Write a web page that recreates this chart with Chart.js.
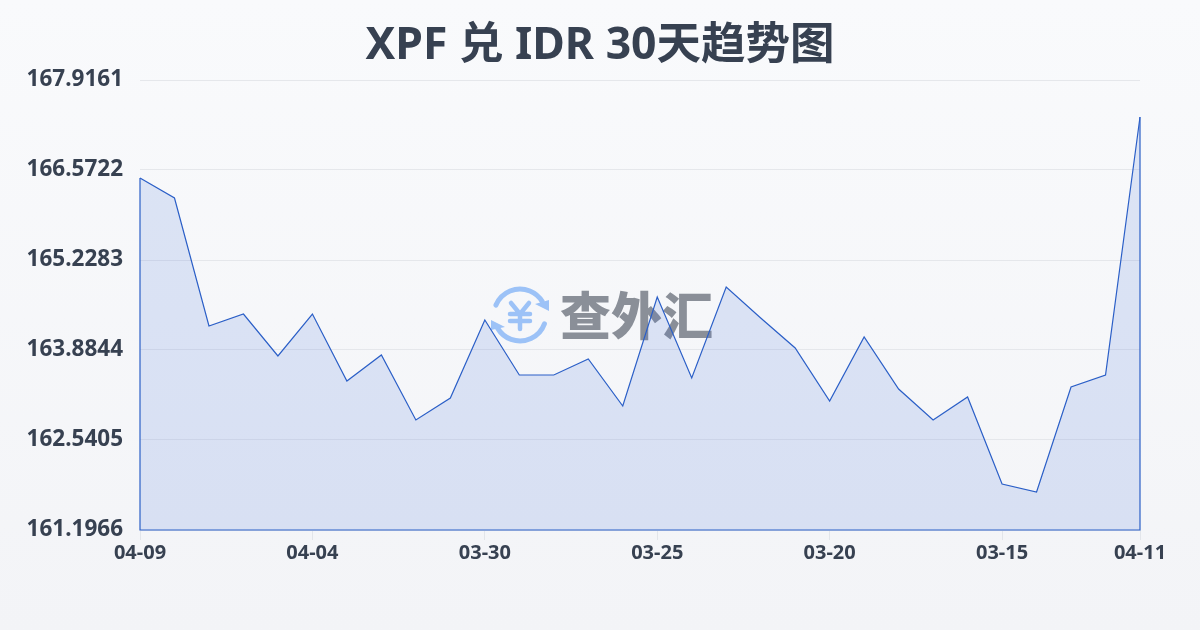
<!DOCTYPE html>
<html><head><meta charset="utf-8">
<script src="https://cdn.jsdelivr.net/npm/chart.js@4"></script>
<style>
html,body{margin:0;padding:0;width:1200px;height:630px;overflow:hidden;background:linear-gradient(180deg,#f9fafc 0%,#f3f4f7 100%);}
#w{position:absolute;left:0;top:0;width:1200px;height:630px}
</style></head><body><div id="w"><canvas id="c" width="1200" height="630"></canvas></div>
<script>
const titleText = 'XPF 兑 IDR 30天趋势图';
const categories = ['04-09','04-08','04-07','04-06','04-05','04-04','04-03','04-02','04-01','03-31','03-30','03-29','03-28','03-27','03-26','03-25','03-24','03-23','03-22','03-21','03-20','03-19','03-18','03-17','03-16','03-15','03-14','03-13','03-12','04-11'];
const rates = [166.4527,166.1541,164.2428,164.4220,163.7948,164.4220,163.4215,163.8097,162.8391,163.1677,164.3324,163.5111,163.5111,163.7500,163.0482,164.6758,163.4663,164.8251,164.3622,163.9143,163.1229,164.0785,163.3020,162.8391,163.1826,161.8835,161.7640,163.3319,163.5111,167.3636];
const yTicks = [161.1966,162.5405,163.8844,165.2283,166.5722,167.9161];
const xShown = ['04-09','04-04','03-30','03-25','03-20','03-15','04-11'];
const fontFam = '"Noto Sans","Noto Sans CJK SC",sans-serif';
const lineColor = '#2b5fc7';

const watermark = {
  id:'watermark',
  beforeDatasetsDraw(chart){
    const ctx = chart.ctx; ctx.save();
    const cx=520, cy=315, r=26;
    ctx.strokeStyle='#9cc2f7'; ctx.fillStyle='#9cc2f7'; ctx.lineWidth=5; ctx.lineCap='round';
    ctx.beginPath(); ctx.arc(cx,cy,r,-2.75,-0.55); ctx.stroke();
    ctx.beginPath(); ctx.arc(cx,cy,r,0.35,2.6); ctx.stroke();
    ctx.beginPath(); ctx.moveTo(549,300); ctx.lineTo(549,311); ctx.lineTo(535,304); ctx.closePath(); ctx.fill();
    ctx.beginPath(); ctx.moveTo(491,330); ctx.lineTo(491,320); ctx.lineTo(505,327); ctx.closePath(); ctx.fill();
    ctx.lineWidth=4.5;
    ctx.beginPath(); ctx.moveTo(511,303); ctx.lineTo(520,314); ctx.lineTo(529,303);
    ctx.moveTo(520,314); ctx.lineTo(520,329);
    ctx.moveTo(510,314); ctx.lineTo(530,314);
    ctx.moveTo(510,321); ctx.lineTo(530,321); ctx.stroke();
    ctx.fillStyle='#8a8f98'; ctx.font='900 51px "Noto Sans CJK SC"';
    ctx.textAlign='left'; ctx.textBaseline='middle';
    ctx.fillText('查外汇',560,316);
    ctx.restore();
  }
};
const outline = {
  id:'outline',
  afterDatasetsDraw(chart){
    const pts = chart.getDatasetMeta(0).data, y0 = chart.scales.y.getPixelForValue(yTicks[0]);
    const ctx = chart.ctx; ctx.save();
    ctx.strokeStyle=lineColor; ctx.lineWidth=1.2;
    ctx.beginPath();
    ctx.moveTo(pts[0].x,pts[0].y); ctx.lineTo(pts[0].x,y0);
    ctx.lineTo(pts[pts.length-1].x,y0); ctx.lineTo(pts[pts.length-1].x,pts[pts.length-1].y);
    ctx.stroke(); ctx.restore();
  }
};
new Chart(document.getElementById('c'),{
  type:'line',
  data:{labels:categories,datasets:[{data:rates,borderColor:lineColor,borderWidth:1.2,pointRadius:0,tension:0,fill:'origin',backgroundColor:'rgba(62,110,215,0.15)'}]},
  plugins:[watermark,outline],
  options:{
    responsive:false,animation:false,
    layout:{padding:0},
    plugins:{legend:{display:false},tooltip:{enabled:false},
      title:{display:true,text:titleText,color:'#374151',font:{family:fontFam,size:44.5,weight:'bold'},padding:{top:20,bottom:6.6}}},
    scales:{
      x:{type:'category',offset:false,
        afterBuildTicks(s){s.ticks=s.ticks.filter(t=>xShown.includes(categories[t.value]));},
        afterFit(s){s.height=100;},
        border:{display:false},
        grid:{drawOnChartArea:false,color:'#e2e5ea',tickLength:10},
        ticks:{autoSkip:false,maxRotation:0,color:'#374151',padding:1,font:{family:fontFam,size:20,weight:'bold'}}},
      y:{min:yTicks[0],max:yTicks[yTicks.length-1],
        afterBuildTicks(s){s.ticks=yTicks.map(v=>({value:v}));},
        afterFit(s){s.width=140;},
        border:{display:false},
        grid:{color:'#e5e7eb',lineWidth:1,drawTicks:false},
        ticks:{color:'#374151',padding:17,font:{family:fontFam,size:22.5,weight:'bold'},callback:v=>Number(v).toFixed(4)}},
      yRight:{position:'right',min:0,max:1,
        afterFit(s){s.width=60;},
        border:{display:false},grid:{display:false,drawTicks:false},ticks:{display:false}}
    }
  }
});
</script></body></html>
